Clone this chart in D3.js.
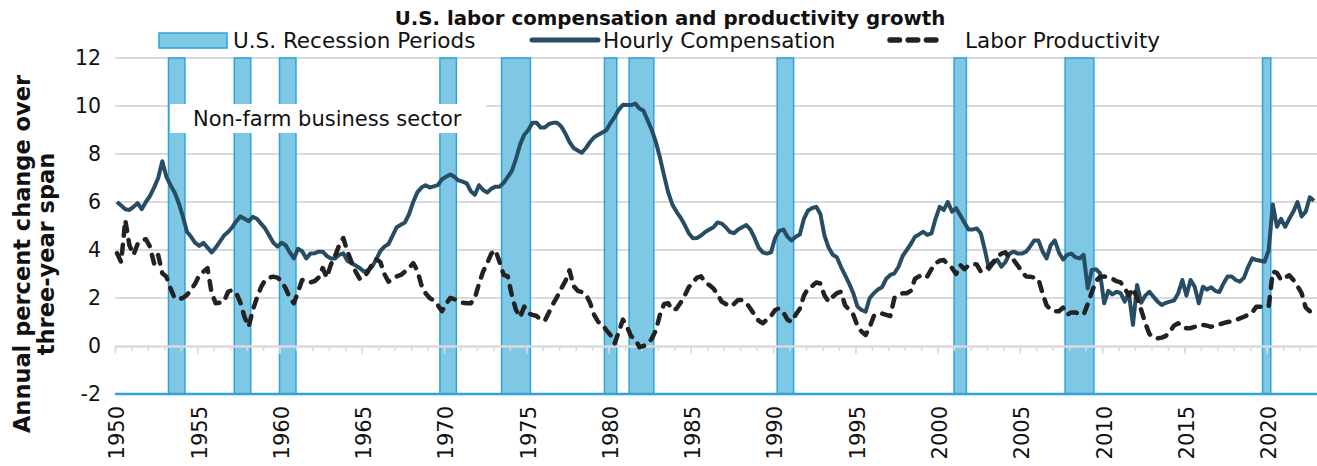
<!DOCTYPE html>
<html>
<head>
<meta charset="utf-8">
<script src="https://cdn.jsdelivr.net/npm/d3@7/dist/d3.min.js"></script>
<style>
  html, body { margin: 0; padding: 0; background: #fff; }
  svg { display: block; font-family: "DejaVu Sans", sans-serif; }
</style>
</head>
<body>
<svg id="chart" width="1317" height="466"></svg>
<script>
// ---- data (quarterly, 1950Q1 - 2022Q4) ----
const years = d3.range(1950, 2023);
const quarters = years.flatMap(y => [1, 2, 3, 4].map(q => y + "Q" + q));
const yTicks = [-2, 0, 2, 4, 6, 8, 10, 12];
const labelYears = d3.range(1950, 2021, 5);

// recession periods: [first quarter, quarter where shading stops]
const recessions = [
  ["1953Q2", "1954Q2"], ["1957Q2", "1958Q2"], ["1960Q1", "1961Q1"],
  ["1969Q4", "1970Q4"], ["1973Q3", "1975Q2"], ["1979Q4", "1980Q3"],
  ["1981Q2", "1982Q4"], ["1990Q2", "1991Q2"], ["2001Q1", "2001Q4"],
  ["2007Q4", "2009Q3"], ["2019Q4", "2020Q2"]
];

// hourly compensation, annual % change over three-year span
const hourlyComp = [
  6.0, 5.85, 5.7, 5.67,   // 1950
  5.8, 5.95, 5.7, 6.0,
  6.25, 6.6, 7.0, 7.7,
  7.05, 6.7, 6.4, 5.95,
  5.4, 4.76, 4.55, 4.3,
  4.17, 4.3, 4.1, 3.9,    // 1955
  4.1, 4.35, 4.6, 4.75,
  4.95, 5.2, 5.4, 5.3,
  5.2, 5.38, 5.3, 5.1,
  4.9, 4.6, 4.3, 4.14,
  4.3, 4.2, 3.9, 3.65,    // 1960
  4.05, 3.95, 3.65, 3.85,
  3.86, 3.93, 3.93, 3.75,
  3.65, 3.65, 3.8, 3.86,
  3.55, 3.45, 3.35, 3.25,
  3.1, 3.15, 3.3, 3.6,    // 1965
  3.95, 4.14, 4.25, 4.6,
  4.95, 5.05, 5.15, 5.5,
  6.0, 6.4, 6.6, 6.7,
  6.6, 6.65, 6.7, 6.95,
  7.05, 7.15, 7.05, 6.9,  // 1970
  6.85, 6.78, 6.45, 6.3,
  6.7, 6.5, 6.4, 6.55,
  6.64, 6.64, 6.8, 7.05,
  7.3, 7.8, 8.4, 8.8,
  9.0, 9.3, 9.3, 9.1,     // 1975
  9.1, 9.25, 9.3, 9.3,
  9.15, 8.85, 8.5, 8.25,
  8.15, 8.05, 8.25, 8.5,
  8.7, 8.8, 8.9, 9.0,
  9.3, 9.55, 9.85, 10.05, // 1980
  10.04, 10.04, 10.1, 9.9,
  9.8, 9.4, 9.0, 8.5,
  7.85, 7.1, 6.4, 5.9,
  5.6, 5.35, 5.05, 4.7,
  4.49, 4.5, 4.6, 4.75,   // 1985
  4.85, 4.95, 5.15, 5.1,
  4.95, 4.75, 4.7, 4.85,
  4.95, 5.04, 4.85, 4.5,
  4.1, 3.9, 3.85, 3.9,
  4.5, 4.8, 4.85, 4.55,   // 1990
  4.4, 4.55, 4.65, 5.3,
  5.65, 5.75, 5.8, 5.5,
  4.6, 4.1, 3.8, 3.7,
  3.3, 2.95, 2.6, 2.2,
  1.65, 1.5, 1.43, 2.0,   // 1995
  2.2, 2.35, 2.45, 2.8,
  2.96, 3.03, 3.3, 3.75,
  4.0, 4.25, 4.55, 4.65,
  4.76, 4.63, 4.69, 5.3,
  5.8, 5.67, 6.0, 5.6,    // 2000
  5.74, 5.45, 5.15, 4.85,
  4.85, 4.9, 4.7, 4.0,
  3.2, 3.44, 3.6, 3.3,
  3.5, 3.85, 3.93, 3.85,
  3.85, 3.93, 4.15, 4.4,  // 2005
  4.4, 3.95, 3.65, 4.2,
  4.4, 3.9, 3.6, 3.8,
  3.85, 3.7, 3.65, 3.8,
  2.4, 3.17, 3.2, 3.03,
  1.78, 2.3, 2.15, 2.26,  // 2010
  2.2, 1.85, 2.2, 0.88,
  2.54, 1.8, 2.1, 2.26,
  2.05, 1.85, 1.71, 1.8,
  1.85, 1.9, 2.2, 2.75,
  2.1, 2.75, 2.47, 1.78,  // 2015
  2.47, 2.35, 2.45, 2.3,
  2.25, 2.6, 2.9, 2.9,
  2.75, 2.68, 2.85, 3.3,
  3.65, 3.58, 3.55, 3.51,
  4.0, 5.9, 4.97, 5.3,    // 2020
  4.97, 5.3, 5.6, 6.0,
  5.4, 5.6, 6.2, 6.05
];

// labor productivity, annual % change over three-year span
const laborProd = [
  3.86, 3.5, 5.25, 4.2,   // 1950
  3.8, 4.25, 4.4, 4.45,
  4.14, 3.44, 3.79, 3.03,
  2.89, 2.4, 1.99, 1.95,
  2.0, 2.13, 2.35, 2.6,
  2.96, 3.1, 3.24, 2.2,   // 1955
  1.78, 1.8, 1.85, 2.26,
  2.33, 2.2, 1.8, 1.2,
  0.8, 1.5, 2.0, 2.45,
  2.75, 2.85, 2.89, 2.85,
  2.7, 2.4, 2.0, 1.78,    // 1960
  2.26, 2.75, 2.75, 2.65,
  2.7, 2.85, 3.25, 2.85,
  3.4, 3.75, 4.2, 4.5,
  3.95, 3.5, 3.1, 2.8,
  2.85, 3.1, 3.4, 3.62,   // 1965
  3.5, 3.0, 2.68, 2.8,
  2.9, 2.96, 3.1, 3.25,
  3.45, 3.15, 2.54, 2.2,
  2.0, 1.9, 1.7, 1.45,
  1.75, 2.0, 1.95, 1.85,  // 1970
  1.8, 1.78, 1.78, 2.0,
  2.6, 3.1, 3.45, 3.85,
  4.0, 3.5, 2.96, 2.9,
  2.1, 1.5, 1.2, 1.64,
  1.36, 1.3, 1.25, 1.1,   // 1975
  1.05, 1.4, 1.75, 2.05,
  2.4, 2.7, 3.15, 2.5,
  2.3, 2.25, 2.15, 1.8,
  1.3, 1.0, 0.9, 0.65,
  0.45, 0.11, 0.6, 1.1,   // 1980
  0.8, 0.4, 0.3, -0.05,
  0.0, 0.1, 0.3, 0.65,
  1.3, 1.75, 1.78, 1.5,
  1.55, 1.8, 2.1, 2.45,
  2.65, 2.85, 2.9, 2.65,  // 1985
  2.54, 2.4, 2.15, 1.85,
  1.75, 1.65, 1.75, 1.92,
  1.92, 1.8, 1.55, 1.3,
  1.05, 0.95, 1.1, 1.25,
  1.5, 1.57, 1.4, 1.1,    // 1990
  1.0, 1.3, 1.55, 2.1,
  2.4, 2.5, 2.65, 2.6,
  2.1, 1.85, 2.05, 2.2,
  2.26, 1.7, 1.5, 1.3,
  0.85, 0.6, 0.46, 0.8,   // 1995
  1.25, 1.35, 1.35, 1.3,
  1.25, 2.0, 2.1, 2.2,
  2.2, 2.3, 2.8, 2.9,
  3.0, 2.9, 3.2, 3.45,
  3.55, 3.58, 3.4, 3.25,  // 2000
  3.0, 3.38, 3.2, 3.35,
  3.42, 3.4, 3.1, 3.2,
  3.3, 3.5, 3.7, 3.85,
  3.9, 3.65, 3.58, 3.35,
  3.1, 2.9, 2.89, 2.85,   // 2005
  2.8, 2.2, 1.7, 1.5,
  1.45, 1.45, 1.6, 1.3,
  1.4, 1.4, 1.33, 1.3,
  1.75, 2.25, 2.7, 2.89,
  2.9, 2.85, 2.8, 2.7,    // 2010
  2.65, 2.4, 2.1, 2.4,
  2.0, 1.5, 0.95, 0.5,
  0.35, 0.32, 0.35, 0.42,
  0.6, 0.85, 0.95, 0.78,
  0.74, 0.74, 0.8, 0.88,  // 2015
  0.88, 0.85, 0.8, 0.86,
  0.9, 0.95, 1.0, 1.03,
  1.08, 1.15, 1.22, 1.3,
  1.4, 1.64, 1.64, 1.64,
  1.64, 3.1, 3.05, 2.75,  // 2020
  2.85, 2.95, 2.75, 2.5,
  2.2, 1.6, 1.45, 1.43
];

// ---- colours ----
const recFill = "#7ec8e5";
const recStroke = "#2ea3da";
const compColor = "#264d63";
const prodColor = "#222222";
const gridColor = "#d9d9de";

const svg = d3.select("#chart");

// scales
const x = d3.scaleBand().domain(quarters).range([115, 1316]).padding(0);
const xYear = d3.scaleLinear().domain([1950, 2023]).range([115, 1316]);
const y = d3.scaleLinear().domain([-2, 12]).range([394, 58]);
const xc = q => x(q) + x.bandwidth() / 2;

// horizontal gridlines (0 and -2 are drawn later)
svg.append("g")
  .selectAll("line")
  .data(yTicks.filter(v => v > 0))
  .join("line")
  .attr("x1", 115).attr("x2", 1317)
  .attr("y1", d => y(d)).attr("y2", d => y(d))
  .attr("stroke", gridColor)
  .attr("stroke-width", 2);

// recession bars
svg.append("g")
  .selectAll("rect")
  .data(recessions)
  .join("rect")
  .attr("x", d => x(d[0]))
  .attr("width", d => x(d[1]) - x(d[0]))
  .attr("y", y(12))
  .attr("height", y(-2) - y(12))
  .attr("fill", recFill)
  .attr("stroke", recStroke)
  .attr("stroke-width", 1.5);

// annotation box
svg.append("rect")
  .attr("x", 170).attr("y", 104)
  .attr("width", 316).attr("height", 29)
  .attr("fill", "#fff");
svg.append("text")
  .attr("x", 193).attr("y", 126)
  .attr("font-size", 21)
  .attr("fill", "#111")
  .text("Non-farm business sector");

// zero line with yearly ticks
const minorAxis = d3.axisBottom(xYear)
  .tickValues(d3.range(1950, 2023))
  .tickSize(5).tickSizeOuter(0)
  .tickFormat("");
const majorAxis = d3.axisBottom(xYear)
  .tickValues(d3.range(1950, 2023, 5))
  .tickSize(8).tickSizeOuter(0)
  .tickFormat("");
[minorAxis, majorAxis].forEach(ax => {
  const g = svg.append("g")
    .attr("transform", `translate(0,${y(0)})`)
    .call(ax);
  g.select(".domain").attr("stroke", gridColor).attr("stroke-width", 2);
  g.selectAll(".tick line").attr("stroke", gridColor).attr("stroke-width", 1.5);
});

// bottom axis line (-2)
svg.append("line")
  .attr("x1", 115).attr("x2", 1317)
  .attr("y1", y(-2)).attr("y2", y(-2))
  .attr("stroke", recStroke)
  .attr("stroke-width", 2.5);

// series lines
const line = d3.line()
  .x((d, i) => xc(quarters[i]))
  .y(d => y(d))
  .curve(d3.curveLinear);

svg.append("path")
  .datum(hourlyComp)
  .attr("d", line)
  .attr("fill", "none")
  .attr("stroke", compColor)
  .attr("stroke-width", 4)
  .attr("stroke-linejoin", "round");

// productivity is drawn on top of compensation
svg.append("path")
  .datum(laborProd)
  .attr("d", line)
  .attr("fill", "none")
  .attr("stroke", prodColor)
  .attr("stroke-width", 4.5)
  .attr("stroke-dasharray", "9,9")
  .attr("stroke-linecap", "round")
  .attr("stroke-linejoin", "round");

// y tick labels
svg.append("g")
  .selectAll("text")
  .data(yTicks)
  .join("text")
  .attr("x", 101)
  .attr("y", d => y(d))
  .attr("dy", "0.35em")
  .attr("text-anchor", "end")
  .attr("font-size", 20.5)
  .attr("fill", "#111")
  .text(d => d);

// x labels, rotated
svg.append("g")
  .selectAll("text")
  .data(labelYears)
  .join("text")
  .attr("transform", d => `translate(${xc(d + "Q1")},406) rotate(-90)`)
  .attr("text-anchor", "end")
  .attr("dy", "0.35em")
  .attr("font-size", 21)
  .attr("fill", "#111")
  .text(d => d);

// y axis title
const yTitle = svg.append("text")
  .attr("transform", "translate(30,254) rotate(-90)")
  .attr("text-anchor", "middle")
  .attr("font-size", 22.5)
  .attr("font-weight", "bold")
  .attr("fill", "#111");
yTitle.append("tspan").attr("x", 0).attr("dy", 0).text("Annual percent change over");
yTitle.append("tspan").attr("x", 0).attr("dy", 24).text("three-year span");

// chart title
svg.append("text")
  .attr("x", 670).attr("y", 25)
  .attr("text-anchor", "middle")
  .attr("font-size", 19.8)
  .attr("font-weight", "bold")
  .attr("fill", "#111")
  .text("U.S. labor compensation and productivity growth");

// legend
const legend = svg.append("g").attr("font-size", 21.5).attr("fill", "#111");
legend.append("rect")
  .attr("x", 159).attr("y", 33).attr("width", 68).attr("height", 15)
  .attr("fill", recFill).attr("stroke", recStroke).attr("stroke-width", 1.5);
legend.append("text").attr("x", 233).attr("y", 48).text("U.S. Recession Periods");
legend.append("line")
  .attr("x1", 532).attr("x2", 598).attr("y1", 40).attr("y2", 40)
  .attr("stroke", compColor).attr("stroke-width", 5).attr("stroke-linecap", "round");
legend.append("text").attr("x", 603).attr("y", 48).text("Hourly Compensation");
legend.append("line")
  .attr("x1", 890).attr("x2", 936).attr("y1", 40).attr("y2", 40)
  .attr("stroke", prodColor).attr("stroke-width", 5.5)
  .attr("stroke-dasharray", "9.5,8.7").attr("stroke-linecap", "round");
legend.append("text").attr("x", 965).attr("y", 48).text("Labor Productivity");
</script>
</body>
</html>
